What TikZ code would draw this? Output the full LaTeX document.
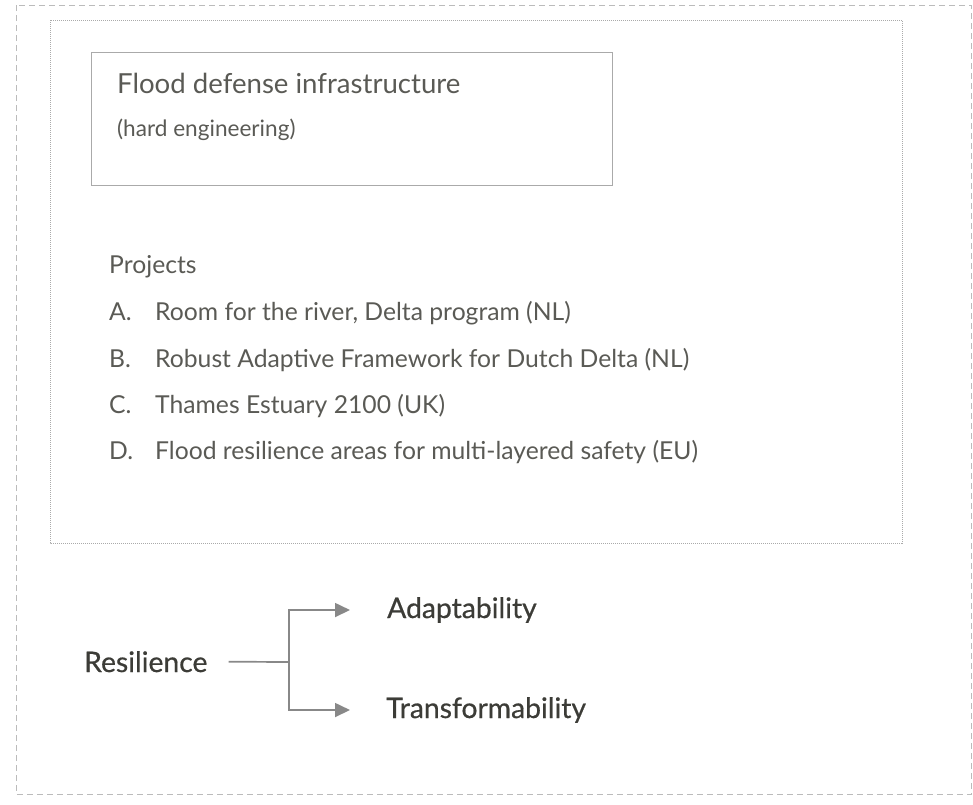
\documentclass[tikz,border=0pt]{standalone}
\usepackage{fontspec}
\setmainfont{Lato}
\newfontfamily\medfont{Lato}[FakeBold=0.6]
\usetikzlibrary{arrows.meta}
\definecolor{txtgray}{HTML}{5A5A55}
\definecolor{txtdark}{HTML}{3C3C37}
\definecolor{linegray}{HTML}{888888}
\definecolor{boxgray}{HTML}{AAAAAA}
\definecolor{dashgray}{HTML}{BBBBBB}
\tikzset{
  frameouter/.style={draw=dashgray, line width=1pt, dash pattern=on 6pt off 4pt},
  frameinner/.style={draw=boxgray, line width=0.8pt, dash pattern=on 1pt off 1pt},
  boxsolid/.style={draw=boxgray, line width=1pt},
  titletext/.style={text=txtgray, inner sep=0pt, anchor=base west, font=\fontsize{27.6}{30}\selectfont},
  uptext/.style={text=txtgray, inner sep=0pt, anchor=base west, font=\fontsize{24.7}{28}\selectfont},
  subtext/.style={text=txtgray, inner sep=0pt, anchor=base west, font=\fontsize{22.6}{26}\selectfont},
  lowtext/.style={text=txtdark, inner sep=0pt, anchor=base west, font=\medfont\fontsize{28.3}{32}\selectfont},
  conn/.style={draw=linegray, line width=1.7pt},
  arr/.style={conn, -{Triangle[length=15pt,width=14pt]}}
}
\begin{document}
\begin{tikzpicture}[x=1pt,y=-1pt]
\useasboundingbox (0,0) rectangle (973,804);
\draw[frameouter] (16,5) rectangle (971.5,794);
\draw[frameinner] (50,20) rectangle (902,543);
\draw[boxsolid] (91,52) rectangle (612,185);
\node[titletext] (title) at (117,93) {Flood defense infrastructure};
\node[subtext] (sub) at (117,136) {(hard engineering)};
\node[uptext] (proj) at (109,273) {Projects};
\node[uptext] (la) at (109,320) {A.};
\node[uptext] (ta) at (155,320) {Room for the river, Delta program (NL)};
\node[uptext] (lb) at (109,367) {B.};
\node[uptext] (tb) at (155,367) {Robust Adaptive Framework for Dutch Delta (NL)};
\node[uptext] (lc) at (109,413) {C.};
\node[uptext] (tc) at (155,413) {Thames Estuary 2100 (UK)};
\node[uptext] (ld) at (109,459) {D.};
\node[uptext] (td) at (155,459) {Flood resilience areas for multi-layered safety (EU)};
\node[lowtext] (res) at (84,672) {Resilience};
\node[lowtext] (ad) at (387,618) {Adaptability};
\node[lowtext] (tr) at (386,718) {Transformability};
\coordinate (j) at (289,662);
\draw[conn] ([xshift=21pt]res.east) -- (j);
\draw[arr, shorten >=37pt] (j) |- (ad.west);
\draw[arr, shorten >=36pt] (j) |- (tr.west);
\end{tikzpicture}
\end{document}
